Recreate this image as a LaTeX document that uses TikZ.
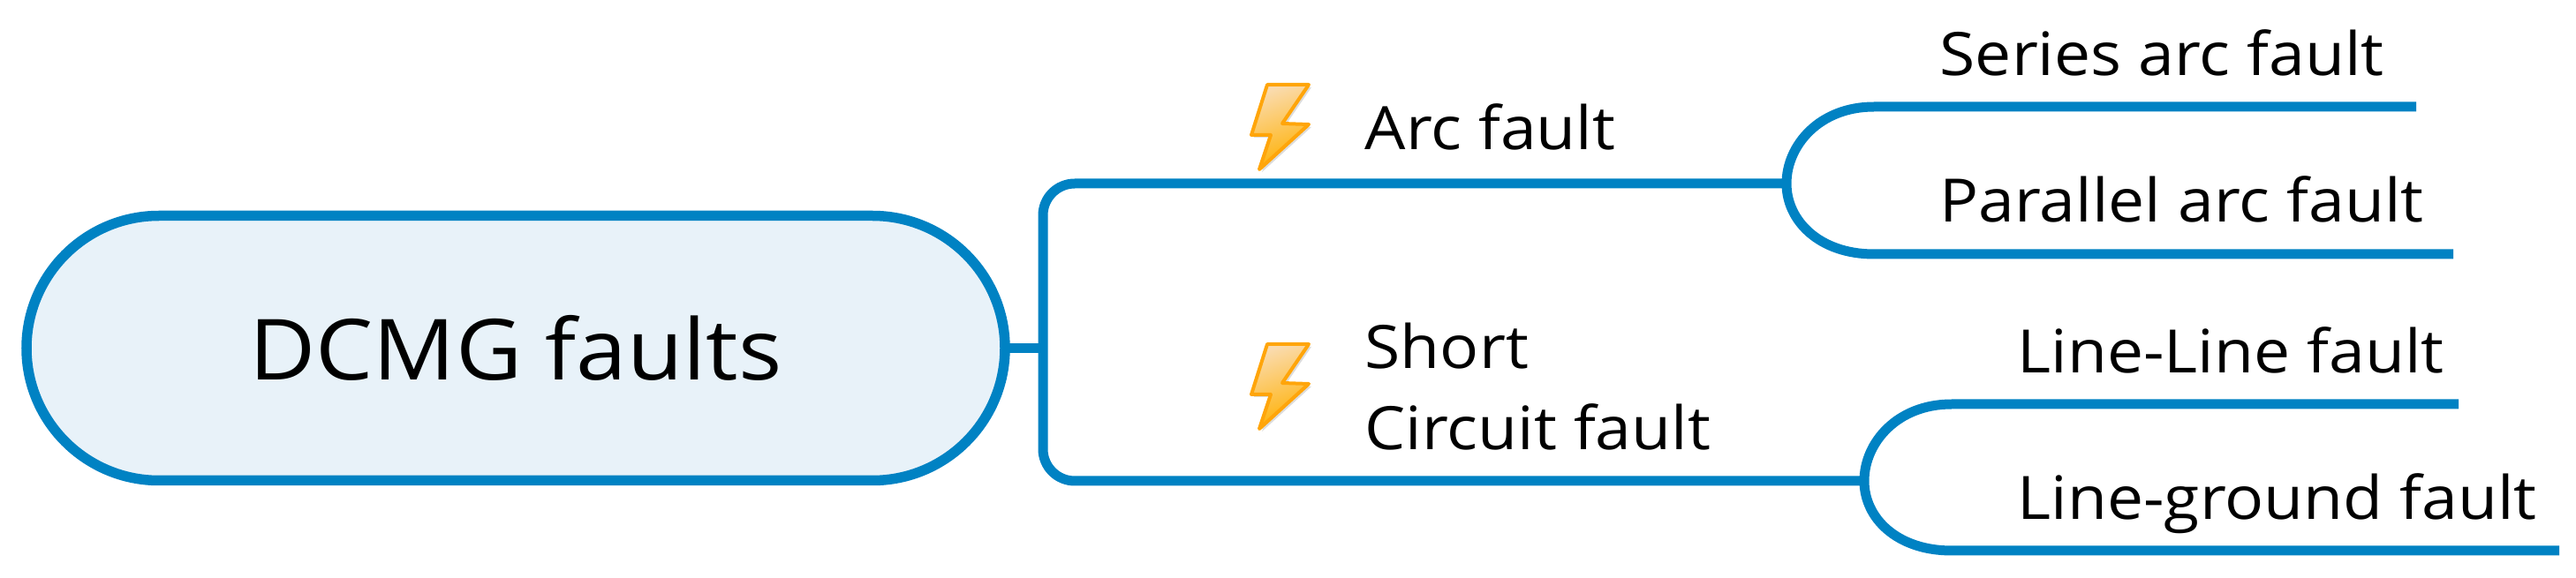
\documentclass[tikz,border=0pt]{standalone}
\usepackage{fontspec}
\setmainfont[FakeStretch=1.08]{Open Sans}
\usetikzlibrary{shapes.misc}
\definecolor{mapblue}{HTML}{0082C3}
\definecolor{mapfill}{HTML}{E8F2F9}
\definecolor{boltedge}{HTML}{FFA50A}
\definecolor{boltlight}{HTML}{FADBAE}
\definecolor{boltdark}{HTML}{FFB000}
\tikzset{
  mapline/.style={draw=mapblue,line width=0.11cm},
  rootbox/.style={rounded rectangle,draw=mapblue,fill=mapfill,line width=0.115cm,
    minimum width=11.08cm,minimum height=3.0cm,inner sep=0pt,outer sep=0pt,
    font=\fontsize{27.2}{32}\selectfont},
  faultlab/.style={anchor=base west,inner sep=0pt,align=left,
    font=\fontsize{19.3}{26.4}\selectfont},
}
\newcommand{\boltmark}[1]{%
  \begin{scope}[shift={#1}]
    \fill[black!30,opacity=0.45] (0.21,-0.03) -- (0.68,-0.03) -- (0.38,-0.47) -- (0.68,-0.48)
      -- (0.12,-0.99) -- (0.25,-0.60) -- (0.03,-0.60) -- cycle;
    \shadedraw[draw=boltedge,line width=0.04cm,line join=round,
      top color=boltlight,bottom color=boltdark,shading angle=20]
      (0.18,0) -- (0.65,0) -- (0.35,-0.44) -- (0.65,-0.45)
      -- (0.09,-0.96) -- (0.22,-0.57) -- (0.0,-0.57) -- cycle;
  \end{scope}}

\begin{document}
\begin{tikzpicture}
  \useasboundingbox (0,0) rectangle (29.17,6.55);
  % root and first level
  \node[rootbox] (root) at (5.84,2.605) {DCMG faults};
  \coordinate (spine) at (11.81,2.605);
  \coordinate (arcjoin) at (20.23,4.47);
  \coordinate (shortjoin) at (21.11,1.10);
  \draw[mapline] (root.east) -- (spine);
  \draw[mapline,rounded corners=0.36cm] (arcjoin) -- (11.81,4.47) -- (11.81,1.10) -- (shortjoin);

  % second level
  \coordinate (seriesend) at (27.36,5.34);
  \coordinate (parallelend) at (27.78,3.67);
  \coordinate (lineend) at (27.84,1.97);
  \coordinate (groundend) at (28.98,0.31);
  \draw[mapline] (seriesend) -- (21.22,5.34) .. controls (20.60,5.34) and (20.23,4.90) .. (arcjoin)
    .. controls (20.23,4.05) and (20.60,3.67) .. (21.22,3.67) -- (parallelend);
  \draw[mapline] (lineend) -- (22.10,1.97) .. controls (21.48,1.97) and (21.11,1.53) .. (shortjoin)
    .. controls (21.11,0.68) and (21.48,0.31) .. (22.10,0.31) -- (groundend);

  % labels
  \node[faultlab] (arcfault) at (15.45,4.85) {Arc fault};
  \node[faultlab] (shortfault) at (15.45,1.45) {Short\\Circuit fault};
  \node[faultlab] (series) at (21.96,5.69) {Series arc fault};
  \node[faultlab] (parallel) at (21.96,4.03) {Parallel arc fault};
  \node[faultlab] (lineline) at (22.84,2.32) {Line-Line fault};
  \node[faultlab] (lineground) at (22.84,0.67) {Line-ground fault};

  \boltmark{(14.17,5.59)}
  \boltmark{(14.17,2.65)}
\end{tikzpicture}
\end{document}
